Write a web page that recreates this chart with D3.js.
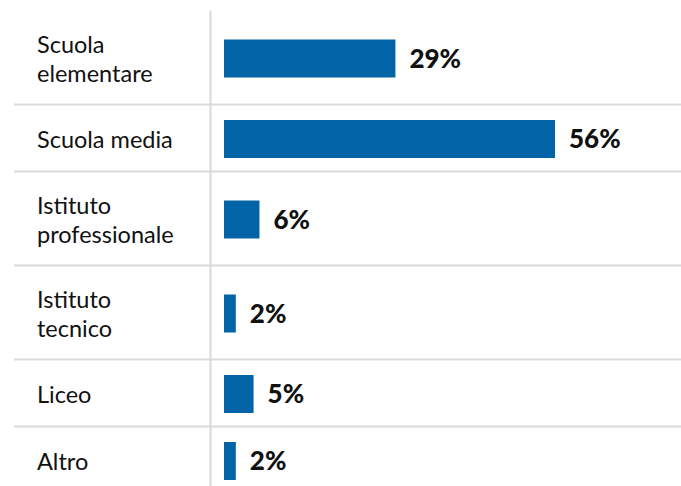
<!DOCTYPE html>
<html>
<head>
<meta charset="utf-8">
<script src="https://cdn.jsdelivr.net/npm/d3@7"></script>
<style>
  html, body { margin: 0; padding: 0; background: #fff; }
  svg { display: block; }
</style>
</head>
<body>
<svg id="chart" width="681" height="486"></svg>
<script>
// Titolo di studio: categorie (una riga per elemento dell'array interno) e percentuali
const categories = [
  ["Scuola", "elementare"],
  ["Scuola media"],
  ["Istituto", "professionale"],
  ["Istituto", "tecnico"],
  ["Liceo"],
  ["Altro"]
];
const values = [29, 56, 6, 2, 5, 2];
const valueLabels = ["29%", "56%", "6%", "2%", "5%", "2%"];

const W = 681, H = 486;
const tableTop = 10.5;
const oneLineRow = 67, extraLine = 27;
const lineHeight = 29.4;
const barH = 38;
const gridColor = "#d9d9d9";
const barColor = "#0263a6";

const svg = d3.select("#chart");

// Cumulative row positions (rows grow with the number of label lines)
const rows = [];
let y0 = tableTop;
categories.forEach((lines, i) => {
  const h = oneLineRow + extraLine * (lines.length - 1);
  rows.push({ lines, value: values[i], label: valueLabels[i], y: y0, h, c: y0 + h / 2 });
  y0 += h;
});

const x = d3.scaleLinear().domain([0, d3.max(values)]).range([224, 555]);

// Horizontal separators between rows
svg.append("g").selectAll("line")
  .data(rows.slice(1))
  .join("line")
  .attr("x1", 14).attr("x2", W)
  .attr("y1", d => d.y).attr("y2", d => d.y)
  .attr("stroke", gridColor).attr("stroke-width", 2);

// Vertical divider between labels and bars
svg.append("line")
  .attr("x1", 210.5).attr("x2", 210.5)
  .attr("y1", tableTop).attr("y2", H)
  .attr("stroke", gridColor).attr("stroke-width", 2);

// Category labels
const lab = svg.append("g").selectAll("text")
  .data(rows)
  .join("text")
  .attr("x", 37)
  .attr("font-family", "Lato, sans-serif")
  .attr("font-size", 23.5)
  .attr("fill", "#111");
lab.each(function(d) {
  const n = d.lines.length;
  d3.select(this).selectAll("tspan")
    .data(d.lines)
    .join("tspan")
    .attr("x", 37)
    .attr("y", (t, i) => d.c + 1.5 + (i - (n - 1) / 2) * lineHeight)
    .attr("dy", "0.36em")
    .text(t => t);
});

// Bars
svg.append("g").selectAll("rect")
  .data(rows)
  .join("rect")
  .attr("x", x(0))
  .attr("y", d => d.c + 1 - barH / 2)
  .attr("width", d => x(d.value) - x(0))
  .attr("height", barH)
  .attr("fill", barColor);

// Value labels
svg.append("g").selectAll("text")
  .data(rows)
  .join("text")
  .attr("x", d => x(d.value) + 14)
  .attr("y", d => d.c + 1)
  .attr("dy", "0.36em")
  .attr("font-family", "Lato, sans-serif")
  .attr("font-weight", 900)
  .attr("font-size", 26)
  .attr("fill", "#111")
  .text(d => d.label);
</script>
</body>
</html>
